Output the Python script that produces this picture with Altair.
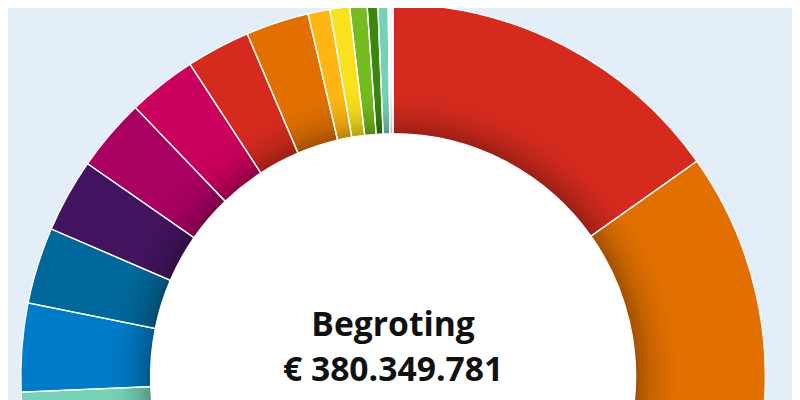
import altair as alt
import pandas as pd

# Slice data (clockwise from 12 o'clock); values in euros (estimated from angles)
names = ["Post 1", "Post 2", "Post 3", "Post 4", "Post 5", "Post 6", "Post 7",
         "Post 8", "Post 9", "Post 10", "Post 11", "Post 12", "Post 13", "Post 14",
         "Post 15", "Post 16", "Post 17", "Post 18", "Post 19", "Post 20"]
values = [57792000, 47544000, 44374000, 40148000, 35922000, 30639000, 26265000,
          14570000, 12626000, 12182000, 12002000, 11358000, 10544000, 10417000,
          3613000, 3254000, 2863000, 1743000, 1690000, 803000]
colors = ["#d52b1e", "#e17000", "#ffb612", "#f9e11e", "#74bc1f", "#39870c", "#76d2b6",
          "#007bc7", "#01689b", "#42145f", "#a90061", "#ca005d", "#d52b1e", "#e17000",
          "#ffb612", "#f9e11e", "#74bc1f", "#39870c", "#76d2b6", "#f4f6f8"]

title_line1 = "Begroting"
title_line2 = "€ 380.349.781"

df = pd.DataFrame({"name": names, "value": values, "idx": list(range(len(names)))})
one = pd.DataFrame({"a": [0]})

CX, CY = 389, 370
R_OUT, R_IN = 376, 245

base = alt.Chart(df)

hole = alt.Chart(one).mark_arc(
    radius=R_IN, radius2=0, theta=0, theta2=6.2832, fill="white"
).encode(x=alt.value(CX), y=alt.value(CY))

slices = base.mark_arc(radius=R_OUT, radius2=R_IN, strokeWidth=0).encode(
    x=alt.value(CX), y=alt.value(CY),
    theta=alt.Theta("value:Q", stack=True),
    order=alt.Order("idx:Q"),
    color=alt.Color("name:N", scale=alt.Scale(domain=names, range=colors), legend=None),
)

shade = alt.Chart(one).mark_arc(
    radius=R_OUT, radius2=R_IN, theta=0, theta2=6.2832,
    fill=alt.Gradient(
        gradient="radial",
        x1=0.5, y1=0.5, r1=0, x2=0.5, y2=0.5, r2=0.5,
        stops=[
            alt.GradientStop(color="rgba(0,0,0,0.28)", offset=0),
            alt.GradientStop(color="rgba(0,0,0,0.28)", offset=0.652),
            alt.GradientStop(color="rgba(0,0,0,0.13)", offset=0.69),
            alt.GradientStop(color="rgba(0,0,0,0.04)", offset=0.73),
            alt.GradientStop(color="rgba(0,0,0,0)", offset=0.77),
            alt.GradientStop(color="rgba(0,0,0,0)", offset=1),
        ],
    ),
).encode(x=alt.value(CX), y=alt.value(CY))

seps = base.mark_arc(radius=R_OUT, radius2=R_IN, fillOpacity=0, stroke="white",
                     strokeWidth=1.3).encode(
    x=alt.value(CX), y=alt.value(CY),
    theta=alt.Theta("value:Q", stack=True),
    order=alt.Order("idx:Q"),
)

t1 = alt.Chart(one).mark_text(
    text=title_line1, font="Open Sans", fontWeight="bold", fontSize=34,
    color="#111111", align="center", baseline="alphabetic"
).encode(x=alt.value(CX), y=alt.value(329))

t2 = alt.Chart(one).mark_text(
    text=title_line2, font="Open Sans", fontWeight="bold", fontSize=34,
    color="#111111", align="center", baseline="alphabetic"
).encode(x=alt.value(CX), y=alt.value(375))

chart = alt.layer(hole, slices, shade, seps, t1, t2).properties(
    width=792, height=392,
    autosize=alt.AutoSizeParams(type="none"),
    padding=0,
    background="#e4eef8",
).configure_view(stroke=None)

chart.save("out.html", embed_options={"renderer": "svg", "actions": False})
